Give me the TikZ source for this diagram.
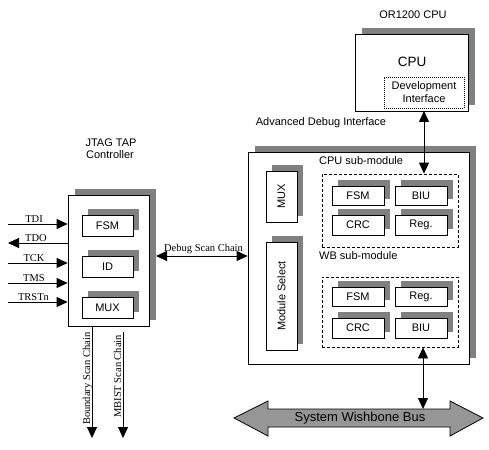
\documentclass[tikz,border=0pt]{standalone}
\usepackage{fontspec}
\setmainfont{Liberation Sans}
\newfontfamily\seriffont{Liberation Serif}
\usetikzlibrary{arrows.meta,shadows,calc}
\definecolor{shadowgray}{RGB}{128,128,128}
\definecolor{busgray}{RGB}{150,150,150}
\begin{document}
\begin{tikzpicture}[x=1pt,y=-1pt,
  lw/.style={line width=0.8pt},
  block/.style={lw, draw=black, fill=white, inner sep=0pt, font=\fontsize{11}{13}\selectfont},
  bigshadow/.style={drop shadow={shadow xshift=7pt, shadow yshift=6pt, fill=shadowgray, opacity=1}},
  smallshadow/.style={drop shadow={shadow xshift=6pt, shadow yshift=6pt, fill=shadowgray, opacity=1}},
  unit/.style={block, smallshadow, minimum width=52pt, minimum height=20pt},
  submod/.style={lw, draw=black, dash pattern=on 3pt off 2pt, inner sep=0pt},
  title/.style={font=\fontsize{11}{13}\selectfont, inner sep=0pt},
  sig/.style={font=\seriffont\fontsize{10.5}{12}\selectfont, inner sep=0pt},
  arr/.style={lw, -{Triangle[length=11pt,width=10pt]}},
  darr/.style={lw, {Triangle[length=11pt,width=10pt]}-{Triangle[length=11pt,width=10pt]}}
]
\useasboundingbox (0,0) rectangle (489,449);

% ---------------- JTAG TAP controller ----------------
\node[title] (jtagt1) at (111,143) {JTAG TAP};
\node[title] (jtagt2) at (110,155) {Controller};
\node[block, bigshadow, minimum width=81pt, minimum height=131pt] (jtag) at (108.5,260.5) {};
\node[block, smallshadow, minimum width=51pt, minimum height=21pt] (jfsm) at (107.5,225.5) {FSM};
\node[block, smallshadow, minimum width=51pt, minimum height=21pt] (jid)  at (107.5,266.5) {ID};
\node[block, smallshadow, minimum width=51pt, minimum height=21pt] (jmux) at (107.5,307.5) {MUX};

% JTAG pins
\coordinate (tdi)   at (8,224);
\coordinate (tdo)   at (8,243);
\coordinate (tck)   at (8,263);
\coordinate (tms)   at (8,283);
\coordinate (trst)  at (8,302);
\draw[arr] (tdi)  -- (tdi -| jtag.west);
\draw[arr] (tdo -| jtag.west) -- (tdo);
\draw[arr] (tck)  -- (tck -| jtag.west);
\draw[arr] (tms)  -- (tms -| jtag.west);
\draw[arr] (trst) -- (trst -| jtag.west);
\node[sig, anchor=base] (ltdi)  at (34,222) {TDI};
\node[sig, anchor=base] (ltdo)  at (36,241) {TDO};
\node[sig, anchor=base] (ltck)  at (34,261) {TCK};
\node[sig, anchor=base] (ltms)  at (34,281) {TMS};
\node[sig, anchor=base] (ltrst) at (33.5,300) {TRSTn};

% scan chains leaving the TAP
\coordinate (bsc) at (92,438);
\coordinate (mbtop) at (123,332);
\coordinate (mbist) at (123,438);
\draw[arr] (bsc |- jtag.south) -- (bsc);
\draw[arr] (mbtop) -- (mbist);
\node[sig, rotate=90, anchor=base west] (lbsc) at (90,425) {Boundary Scan Chain};
\node[sig, rotate=90, anchor=base west] (lmbist) at (121,418) {MBIST Scan Chain};

% ---------------- Advanced Debug Interface ----------------
\node[title] (adit) at (321,123) {Advanced Debug Interface};
\node[block, bigshadow, minimum width=221pt, minimum height=212pt] (adi) at (358.5,258) {};
\node[block, smallshadow, minimum width=31pt, minimum height=51pt] (amux) at (281.5,196.5) {\rotatebox{90}{MUX}};
\node[block, smallshadow, minimum width=31pt, minimum height=108pt] (msel) at (281.5,296) {\rotatebox{90}{Module Select}};

% CPU sub-module
\node[title, anchor=west] (cput) at (319,161) {CPU sub-module};
\node[submod, minimum width=136pt, minimum height=73pt] (cpusub) at (390,210.5) {};
\node[unit, minimum height=19pt] (cfsm) at (358,195.5) {FSM};
\node[unit, minimum height=19pt] (cbiu) at (421,195.5) {BIU};
\node[unit] (ccrc) at (358,225) {CRC};
\node[unit] (creg) at (421,225) {Reg.};

% WB sub-module
\node[title, anchor=west] (wbt) at (319,256) {WB sub-module};
\node[submod, minimum width=136pt, minimum height=70pt] (wbsub) at (390,312) {};
\node[unit, minimum height=19pt] (wfsm) at (358,296.5) {FSM};
\node[unit, minimum height=19pt] (wreg) at (421,296.5) {Reg.};
\node[unit] (wcrc) at (358,328) {CRC};
\node[unit] (wbiu) at (421,328) {BIU};

% Debug scan chain between TAP and ADI
\coordinate (dscl) at (156,256);
\draw[darr] (dscl) -- (dscl -| adi.west);
\node[sig, anchor=base] (ldsc) at (203.5,251) {Debug Scan Chain};

% ---------------- OR1200 CPU ----------------
\node[title] (cput2) at (413,15) {OR1200 CPU};
\node[block, bigshadow, minimum width=113pt, minimum height=77pt] (cpu) at (411.5,72.5) {};
\node[font=\fontsize{13.5}{15}\selectfont, inner sep=0pt] (cpulbl) at (412,62) {CPU};
\node[lw, draw=black, dash pattern=on 1pt off 1pt, minimum width=80pt, minimum height=31pt,
      inner sep=0pt, align=center, font=\fontsize{11}{13}\selectfont] (devif) at (424,92.5)
      {Development\\Interface};
\coordinate (cpulink) at (424,111);
\draw[darr] (cpulink) -- (cpulink |- cpusub.north);

% ---------------- System Wishbone bus ----------------
\draw[lw, fill=busgray] (234,418) -- (268,401) -- (268,409) -- (450,409) -- (450,401)
  -- (483,418) -- (450,436) -- (450,427) -- (268,427) -- (268,436) -- cycle;
\node[font=\fontsize{13}{15}\selectfont, inner sep=0pt] (bus) at (360,418) {System Wishbone Bus};
\coordinate (bustop) at (423,409);
\draw[darr] (bustop |- wbsub.south) -- (bustop);

\end{tikzpicture}
\end{document}
